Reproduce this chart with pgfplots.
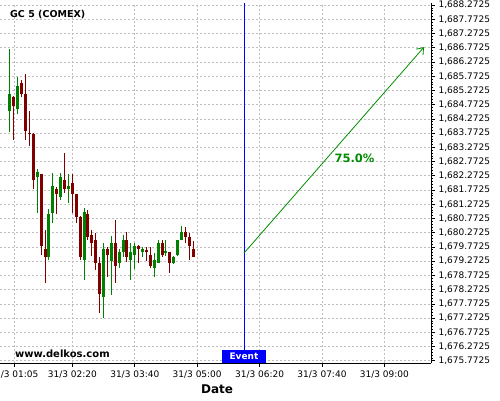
\documentclass[border=0pt]{standalone}
\usepackage{pgfplots}
\pgfplotsset{compat=1.18}
\usepackage{pgfplotstable}
\usepackage{fontspec}
\setmainfont{DejaVu Sans}
\usetikzlibrary{arrows.meta}
\definecolor{upc}{RGB}{0,128,0}
\definecolor{dnc}{RGB}{128,0,0}
\definecolor{arrowc}{RGB}{0,140,0}
\definecolor{gridc}{RGB}{190,190,190}
\definecolor{evblue}{RGB}{0,0,255}

% t = minutes after 00:00 on 31/3 ; o h l c
\pgfplotstableread{
t o h l c
60 1684.557 1686.715 1683.819 1685.144
70 1684.617 1685.731 1684.441 1685.425
95 1682.237 1682.508 1680.972 1682.402
110 1679.425 1681.102 1679.309 1680.926
115 1680.951 1682.378 1680.610 1681.910
125 1681.534 1682.378 1681.418 1682.237
135 1681.805 1682.332 1681.313 1681.910
155 1679.309 1681.137 1678.606 1681.007
180 1678.019 1679.907 1677.271 1679.696
190 1679.285 1680.163 1678.079 1679.907
200 1679.214 1679.696 1679.028 1679.601
205 1679.601 1680.200 1679.425 1680.012
215 1679.309 1679.907 1678.606 1679.601
220 1679.485 1679.917 1678.993 1679.801
230 1679.601 1679.756 1679.425 1679.685
245 1679.017 1679.566 1678.701 1679.309
250 1679.214 1680.012 1679.193 1679.917
260 1679.566 1680.012 1679.450 1679.636
270 1679.214 1679.450 1679.169 1679.425
275 1679.485 1680.030 1679.470 1680.012
280 1680.012 1680.504 1680.000 1680.304
}\upcandles

\pgfplotstableread{
t o h l c
65 1685.049 1685.070 1683.527 1684.733
75 1685.541 1685.636 1685.028 1685.144
80 1685.144 1685.847 1683.527 1683.854
85 1683.773 1684.547 1683.316 1683.738
90 1683.738 1683.760 1681.794 1682.121
100 1682.332 1682.350 1679.485 1679.801
105 1679.696 1680.364 1678.501 1679.425
120 1681.805 1681.886 1680.926 1681.629
130 1682.121 1683.081 1681.675 1681.805
140 1682.005 1682.332 1680.961 1681.629
145 1681.629 1681.650 1680.610 1680.831
150 1680.831 1680.850 1679.309 1679.425
160 1680.926 1681.067 1680.012 1680.128
165 1680.188 1680.364 1679.450 1679.896
170 1680.012 1680.269 1678.958 1679.214
175 1679.204 1679.415 1677.457 1678.104
185 1679.696 1679.766 1678.722 1679.485
195 1679.907 1680.715 1678.501 1679.109
210 1680.012 1680.304 1679.250 1679.425
225 1679.801 1679.836 1679.204 1679.706
235 1679.661 1679.777 1679.285 1679.601
240 1679.485 1679.777 1679.017 1679.098
255 1679.896 1680.012 1679.425 1679.485
265 1679.580 1679.601 1678.863 1679.214
285 1680.304 1680.480 1679.907 1680.128
290 1680.128 1680.269 1679.309 1679.801
295 1679.685 1679.988 1679.404 1679.425
}\downcandles

\begin{document}
\begin{tikzpicture}
\begin{axis}[
  at={(0pt,37pt)}, anchor=south west,
  scale only axis, width=431pt, height=360pt,
  xmin=47.18, xmax=599.76,
  ymin=1675.692, ymax=1688.346,
  axis x line=bottom, axis y line=right,
  axis line style={-, black, line width=0.8pt},
  xtick={65,140,220,300,380,460,540},
  xticklabels={31/3 01:05, 31/3 02:20, 31/3 03:40, 31/3 05:00, 31/3 06:20, 31/3 07:40, 31/3 09:00},
  minor x tick num=3,
  ytick={1675.7725,1676.2725,1676.7725,1677.2725,1677.7725,1678.2725,1678.7725,1679.2725,1679.7725,1680.2725,1680.7725,1681.2725,1681.7725,1682.2725,1682.7725,1683.2725,1683.7725,1684.2725,1684.7725,1685.2725,1685.7725,1686.2725,1686.7725,1687.2725,1687.7725,1688.2725},
  yticklabels={{1,675.7725},{1,676.2725},{1,676.7725},{1,677.2725},{1,677.7725},{1,678.2725},{1,678.7725},{1,679.2725},{1,679.7725},{1,680.2725},{1,680.7725},{1,681.2725},{1,681.7725},{1,682.2725},{1,682.7725},{1,683.2725},{1,683.7725},{1,684.2725},{1,684.7725},{1,685.2725},{1,685.7725},{1,686.2725},{1,686.7725},{1,687.2725},{1,687.7725},{1,688.2725}},
  minor y tick num=4,
  tick align=outside,
  major tick length=4pt, minor tick length=2pt,
  tick style={black, line width=0.6pt},
  grid=major,
  grid style={gridc, dash pattern=on 2pt off 2pt, line width=0.6pt},
  tick label style={font=\fontsize{9}{10}\selectfont, black},
  xlabel={Date},
  xlabel style={font=\bfseries\fontsize{12}{14}\selectfont, at={(axis description cs:0.5035,0)}, anchor=center, yshift=-26pt},
  clip=false,
]
% wicks
\addplot[draw=none, no markers, error bars/.cd, y dir=plus, y explicit, error mark=none,
  error bar style={draw=upc, line width=1pt}]
  table[x=t, y=l, y error plus expr=\thisrow{h}-\thisrow{l}] {\upcandles};
\addplot[draw=none, no markers, error bars/.cd, y dir=plus, y explicit, error mark=none,
  error bar style={draw=dnc, line width=1pt}]
  table[x=t, y=l, y error plus expr=\thisrow{h}-\thisrow{l}] {\downcandles};
% bodies
\addplot[draw=none, no markers, error bars/.cd, y dir=plus, y explicit, error mark=none,
  error bar style={draw=upc, line width=3pt}]
  table[x=t, y=o, y error plus expr=\thisrow{c}-\thisrow{o}] {\upcandles};
\addplot[draw=none, no markers, error bars/.cd, y dir=plus, y explicit, error mark=none,
  error bar style={draw=dnc, line width=3pt}]
  table[x=t, y=c, y error plus expr=\thisrow{o}-\thisrow{c}] {\downcandles};
% event line
\addplot[evblue, line width=0.8pt] coordinates {(360,1675.692) (360,1688.346)};
% arrow
\addplot[arrowc, line width=0.8pt, -{Straight Barb[length=6pt, width=9pt]}] coordinates {(360,1679.555) (590.8,1686.796)};
\node[font=\bfseries\fontsize{11.5}{13}\selectfont, text=arrowc] at (axis cs:501.7,1682.894) {75.0\%};
\node[fill=evblue, text=white, font=\bfseries\fontsize{9}{10}\selectfont, minimum width=43.4pt, minimum height=13pt, inner sep=0pt, anchor=south] at (axis cs:360,1675.692) {Event};
\end{axis}
\node[anchor=west, inner sep=0pt, font=\bfseries\fontsize{9.5}{11}\selectfont] at (10pt,385pt) {GC 5 (COMEX)};
\node[anchor=west, inner sep=0pt, font=\bfseries\fontsize{10}{12}\selectfont] at (15pt,46pt) {www.delkos.com};
\pgfresetboundingbox
\useasboundingbox (0pt,0pt) rectangle (500pt,400pt);
\end{tikzpicture}
\end{document}
